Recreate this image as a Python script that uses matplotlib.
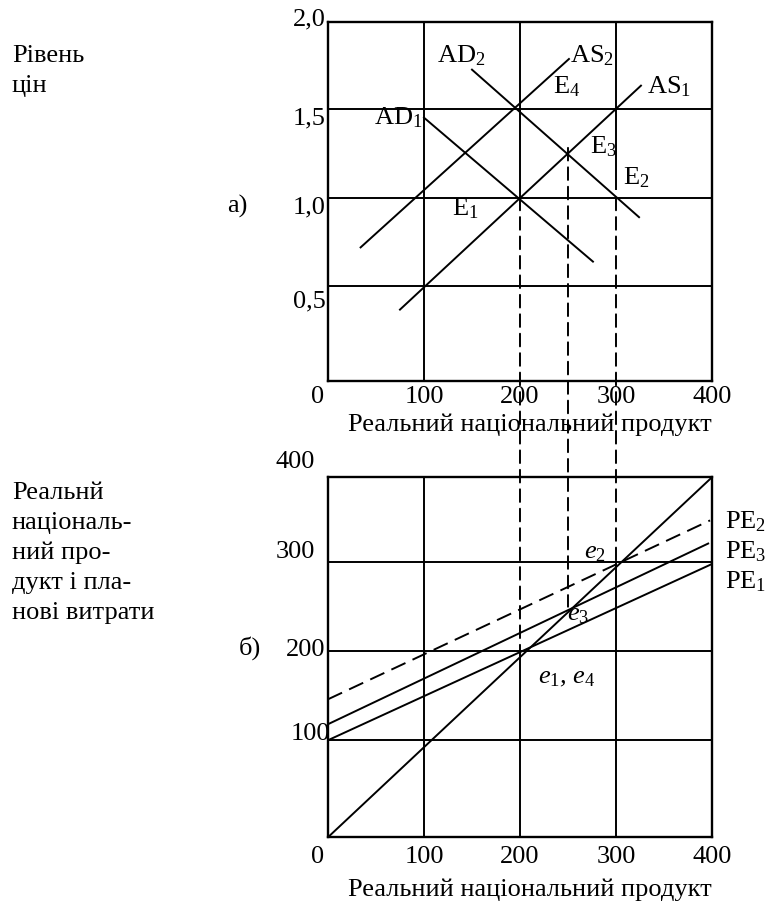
import matplotlib
matplotlib.use('Agg')
import matplotlib.pyplot as plt
from matplotlib.patches import ConnectionPatch

plt.rcParams['font.family'] = ['Liberation Serif', 'DejaVu Serif']
plt.rcParams['mathtext.fontset'] = 'custom'
plt.rcParams['mathtext.rm'] = 'Liberation Serif'
plt.rcParams['mathtext.it'] = 'Liberation Serif:italic'
plt.rcParams['font.size'] = 19

# top panel (a): AD / AS curves, price level vs real national product
ad1_x = [100, 276]
ad1_y = [1.45, 0.64]
ad2_x = [150, 324]
ad2_y = [1.72, 0.89]
as1_x = [75, 326]
as1_y = [0.37, 1.63]
as2_x = [34, 251]
as2_y = [0.72, 1.78]

# bottom panel (b): planned expenditure lines and the 45 degree line
pe1_x = [0, 406]
pe1_y = [100, 301]
pe3_x = [0, 396]
pe3_y = [118, 321]
pe2_x = [0, 398]
pe2_y = [146, 347]
line45_x = [0, 400]
line45_y = [-9, 395.5]

# dashed guides linking the two panels
guide_x = [200, 250, 300]
guide_top = [1.0, 1.28, 1.0]
guide_bottom = [200, 250, 300]

x_ticks = [0, 100, 200, 300, 400]
top_yticks = [0.5, 1.0, 1.5, 2.0]
top_ylabels = ['0,5', '1,0', '1,5', '2,0']
bot_yticks = [100, 200, 300, 400]
bot_ylabels = ['100', '200', '300', '400']

xlabel = 'Реальний національний продукт'

fig = plt.figure(figsize=(7.67, 9.03), dpi=100)
ax1 = fig.add_axes([0.4276, 0.5773, 0.5007, 0.3976])
ax2 = fig.add_axes([0.4276, 0.0717, 0.5007, 0.3987])

lw = 1.4
for ax in (ax1, ax2):
    ax.set_xlim(0, 400)
    ax.set_xticks([])
    ax.set_yticks([])
    for s in ax.spines.values():
        s.set_linewidth(1.7)
        s.set_color('black')
ax1.set_ylim(-0.03, 1.99)
ax2.set_ylim(-9, 395.5)

# grid, top
for v in [0.5, 1.0, 1.5]:
    ax1.plot([0, 400], [v, v], color='black', lw=lw)
ax1.plot([100, 100], [-0.03, 1.99], color='black', lw=lw)
ax1.plot([200, 200], [1.0, 1.99], color='black', lw=lw)
ax1.plot([300, 300], [1.05, 1.99], color='black', lw=lw)

# grid, bottom
for v in [100, 200, 300]:
    ax2.plot([0, 400], [v, v], color='black', lw=lw)
ax2.plot([100, 100], [-9, 395.5], color='black', lw=lw)
ax2.plot([200, 200], [-9, 200], color='black', lw=lw)
ax2.plot([300, 300], [-9, 300], color='black', lw=lw)

# curves
for xs, ys in [(ad1_x, ad1_y), (ad2_x, ad2_y), (as1_x, as1_y), (as2_x, as2_y)]:
    ax1.plot(xs, ys, color='black', lw=lw)
ax2.plot(pe1_x, pe1_y, color='black', lw=lw)
ax2.plot(pe3_x, pe3_y, color='black', lw=lw)
ax2.plot(pe2_x, pe2_y, color='black', lw=lw, linestyle=(0, (8, 4)))
ax2.plot(line45_x, line45_y, color='black', lw=lw)

for gx, gt, gb in zip(guide_x, guide_top, guide_bottom):
    con = ConnectionPatch(xyA=(gx, gt), coordsA=ax1.transData,
                          xyB=(gx, gb), coordsB=ax2.transData,
                          color='black', lw=lw, linestyle=(0, (6.5, 3.5)))
    fig.add_artist(con)

# curve labels
ax1.text(139, 1.805, r'AD$_2$', ha='center', va='center')
ax1.text(275, 1.805, r'AS$_2$', ha='center', va='center')
ax1.text(249, 1.63, r'E$_4$', ha='center', va='center')
ax1.text(355, 1.63, r'AS$_1$', ha='center', va='center')
ax1.text(73, 1.458, r'AD$_1$', ha='center', va='center')
ax1.text(287, 1.29, r'E$_3$', ha='center', va='center')
ax1.text(321.5, 1.12, r'E$_2$', ha='center', va='center')
ax1.text(142.7, 0.944, r'E$_1$', ha='center', va='center')

ax2.text(414, 346.6, r'PE$_2$', ha='left', va='center', clip_on=False)
ax2.text(414, 313, r'PE$_3$', ha='left', va='center', clip_on=False)
ax2.text(414, 279, r'PE$_1$', ha='left', va='center', clip_on=False)
ax2.text(278, 311, r'$e_2$', ha='center', va='center')
ax2.text(261, 242, r'$e_3$', ha='center', va='center')
ax2.text(249, 171, r'$\mathit{e_1}$, $\mathit{e_4}$', ha='center', va='center',
         style='italic')

# tick labels
for ax, ty in ((ax1, -0.043), (ax2, -0.051)):
    tr = ax.get_xaxis_transform()
    for t in x_ticks:
        dx = -10 if t == 0 else 0
        ax.annotate(str(t), (t, ty), xycoords=tr, xytext=(dx, 0),
                    textcoords='offset pixels', ha='center', va='center')
    ax.text(210, -0.12 if ax is ax1 else -0.144, xlabel, transform=tr,
            ha='center', va='center')

top_off = [-14, -9, -9, 1]
for v, lab, dy in zip(top_yticks, top_ylabels, top_off):
    ax1.annotate(lab, (0, v), xytext=(-2, dy), textcoords='offset pixels',
                 ha='right', va='center', annotation_clip=False)
bot_off = [(2, 7), (-3, 2), (-13, 11), (-13, 12)]
for v, lab, (dx, dy) in zip(bot_yticks, bot_ylabels, bot_off):
    ax2.annotate(lab, (0, v), xytext=(dx, dy), textcoords='offset pixels',
                 ha='right', va='center', annotation_clip=False)

# side captions
fig.text(0.0156, 0.950, 'Рівень\nцін', ha='left', va='top', linespacing=1.45)
fig.text(0.0156, 0.466, 'Реальнй\nнаціональ-\nний про-\nдукт і пла-\nнові витрати',
         ha='left', va='top', linespacing=1.45)
fig.text(0.309, 0.771, 'а)', ha='center', va='center')
fig.text(0.326, 0.282, 'б)', ha='center', va='center')

fig.savefig('out.png', dpi=100)
